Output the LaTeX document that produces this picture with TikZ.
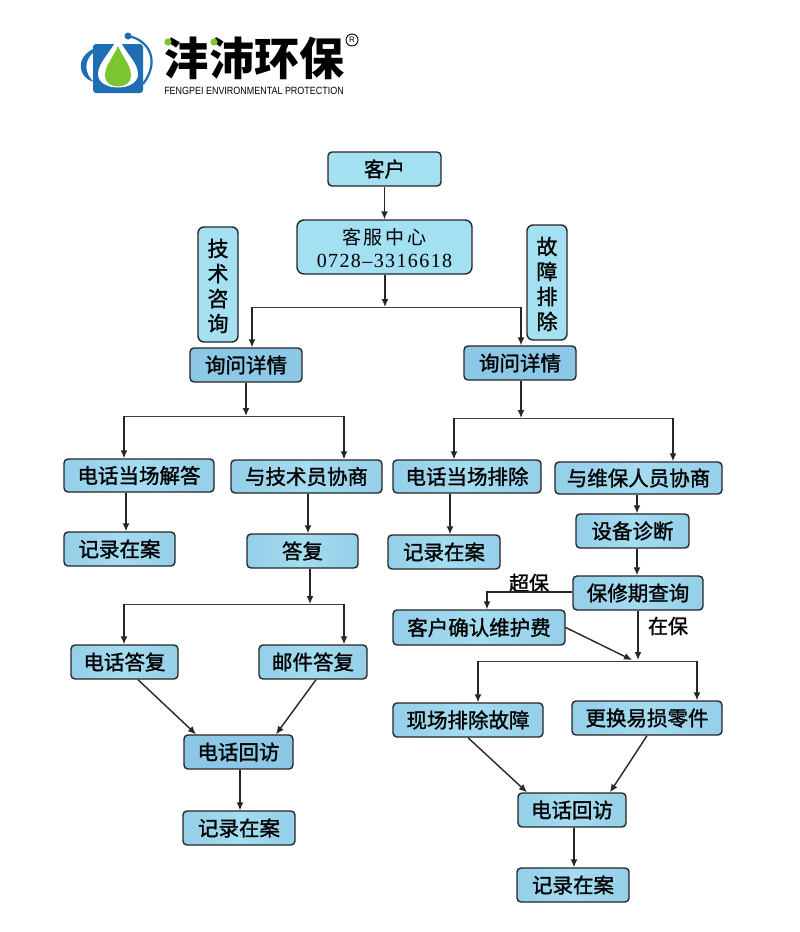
\documentclass[tikz,border=0pt]{standalone}
\usepackage{fontspec}
\setmainfont{Noto Sans CJK SC}
\newfontfamily\boxfont{Noto Sans CJK SC}[FakeBold=1.3]
\newfontfamily\numfont{Liberation Serif}
\newfontfamily\latinfont{Liberation Sans}
\usetikzlibrary{calc,arrows.meta}
\newcommand{\lowtext}[1]{\raisebox{-1.5pt}[\height][\depth]{#1}}
\definecolor{boxblue}{HTML}{A3E0F2}
\definecolor{boxpale}{HTML}{A4DCF0}
\definecolor{boxside}{HTML}{94CEE8}
\definecolor{boxdeep}{HTML}{8CC8E6}
\definecolor{logoblue}{HTML}{1F6DB5}
\definecolor{logogreen}{HTML}{7DC52E}
\tikzset{
  box/.style={draw=black!85, line width=1.4pt, rounded corners=4pt, fill=boxblue, inner sep=0pt, font=\boxfont\fontsize{20.5}{24}\selectfont},
  bandbox/.style={box, left color=boxside, right color=boxside, middle color=boxpale},
  deepbox/.style={box, fill=boxdeep},
  tag/.style={font=\boxfont\fontsize{20}{23}\selectfont, inner sep=0pt},
  flow/.style={draw=black!85, line width=1.4pt, -{Latex[length=8pt,width=7pt]}},
  bar/.style={draw=black!75, line width=1pt},
}
\begin{document}
\begin{tikzpicture}[x=1pt, y=-1pt]
  \useasboundingbox [fill=white] (0,0) rectangle (800,932);
  % logo
  \fill [logoblue, rounded corners=3pt] (93,44) rectangle (143,93);
  \fill [logoblue] (93,49) .. controls (75,58) and (78,78) .. (94,82) .. controls (84,74) and (84,60) .. (93,53) -- cycle;
  \draw [logoblue, line width=2.2pt] (128,36) .. controls (150,40) and (160,62) .. (143,84);
  \fill [logoblue] (128,36) circle [radius=3.5];
  \fill [white] (118,36) .. controls (112,52) and (98,62) .. (98,74) .. controls (98,92) and (138,92) .. (138,74) .. controls (138,62) and (124,52) .. (118,36) -- cycle;
  \fill [logogreen] (118,46) .. controls (113,58) and (105,65) .. (105,76) .. controls (105,90) and (131,90) .. (131,76) .. controls (131,65) and (123,58) .. (118,46) -- cycle;
  \node (logotext) at (254,58) [font=\fontsize{45}{47}\selectfont\bfseries, inner sep=0pt] {沣沛环保};
  \fill [logogreen] (168,42) circle [radius=3.6];
  \fill [logogreen] (214,42) circle [radius=3.6];
  \node (logomark) at (352,40) [draw, circle, line width=0.9pt, inner sep=0pt, minimum size=12pt, font=\fontsize{8}{8}\latinfont] {R};
  \node (logosub) at (254,90.5) [font=\fontsize{10.5}{11}\latinfont, inner sep=0pt, xscale=0.853] {FENGPEI ENVIRONMENTAL PROTECTION};

  % top
  \node (kehu) at (384.5,169) [box, minimum width=113pt, minimum height=34pt] {客户};
  \node (zhongxin) at (384.5,247) [box, minimum width=175pt, minimum height=54pt, rounded corners=7pt, align=center, font=\fontsize{19}{24}\selectfont] {\lowtext{客\hspace{3pt}服\hspace{3pt}中\hspace{3pt}心}\\[-1pt]\lowtext{\numfont\fontsize{20}{24}\selectfont\addfontfeature{LetterSpace=7}0728–3316618}};
  \node (zixun) at (218,284.5) [box, minimum width=40pt, minimum height=115pt, rounded corners=6pt, align=center, font=\boxfont\fontsize{21}{24}\selectfont] {\lowtext{技}\\[1pt]\lowtext{术}\\[1pt]\lowtext{咨}\\[1pt]\lowtext{询}};
  \node (guzhang) at (547,282.5) [box, minimum width=40pt, minimum height=115pt, rounded corners=6pt, align=center, font=\boxfont\fontsize{21}{24}\selectfont] {\lowtext{故}\\[1pt]\lowtext{障}\\[1pt]\lowtext{排}\\[1pt]\lowtext{除}};
  \node (xunl) at (246,365) [deepbox, minimum width=112pt, minimum height=34pt] {询问详情};
  \node (xunr) at (520,363) [deepbox, minimum width=112pt, minimum height=34pt] {询问详情};

  % left branch
  \node (jieda) at (139,475.5) [bandbox, minimum width=150pt, minimum height=33pt] {电话当场解答};
  \node (jishu) at (306.5,476.5) [bandbox, minimum width=151pt, minimum height=33pt] {与技术员协商};
  \node (jil1) at (119.5,549) [bandbox, minimum width=111pt, minimum height=34pt] {记录在案};
  \node (dafu) at (302.5,551) [bandbox, minimum width=111pt, minimum height=34pt] {答复};
  \node (dianda) at (124.5,662) [bandbox, minimum width=107pt, minimum height=34pt] {电话答复};
  \node (youjian) at (313,662) [bandbox, minimum width=108pt, minimum height=34pt] {邮件答复};
  \node (huil) at (238.5,752) [deepbox, minimum width=109pt, minimum height=34pt] {电话回访};
  \node (jil2) at (239,828) [bandbox, minimum width=112pt, minimum height=34pt] {记录在案};

  % right branch
  \node (paichu) at (467,476.5) [bandbox, minimum width=148pt, minimum height=33pt] {电话当场排除};
  \node (weibao) at (638.5,478) [bandbox, minimum width=167pt, minimum height=32pt] {与维保人员协商};
  \node (jir1) at (444,552) [bandbox, minimum width=112pt, minimum height=34pt] {记录在案};
  \node (zhenduan) at (632.5,531) [bandbox, minimum width=113pt, minimum height=34pt] {设备诊断};
  \node (chaxun) at (638,593) [bandbox, minimum width=130pt, minimum height=34pt] {保修期查询};
  \node (queren) at (479,627.5) [bandbox, minimum width=172pt, minimum height=35pt] {客户确认维护费};
  \node (xianchang) at (468,720) [bandbox, minimum width=150pt, minimum height=34pt] {现场排除故障};
  \node (genghuan) at (647,718) [bandbox, minimum width=150pt, minimum height=34pt] {更换易损零件};
  \node (huir) at (572,810) [bandbox, minimum width=108pt, minimum height=34pt] {电话回访};
  \node (jir2) at (573,885) [bandbox, minimum width=112pt, minimum height=34pt] {记录在案};
  \node (chaobao) at (529,583) [tag] {超保};
  \node (zaibao) at (668,626) [tag] {在保};

  % junctions
  \coordinate (jtop) at (385,307);
  \coordinate (jtopl) at (252,307);
  \coordinate (jtopr) at (521,307);
  \coordinate (jl) at (246,416);
  \coordinate (jll) at (124,416);
  \coordinate (jlr) at (344,416);
  \coordinate (jr) at (521,418);
  \coordinate (jrl) at (454,418);
  \coordinate (jrr) at (673,418);
  \coordinate (jd) at (310,604);
  \coordinate (jdl) at (124,604);
  \coordinate (jdr) at (344,604);
  \coordinate (jc) at (638,661);
  \coordinate (jcl) at (478,661);
  \coordinate (jcr) at (697,661);
  \coordinate (jq) at (487,592);

  % connectors
  \draw [flow] (kehu) -- (zhongxin);
  \draw [flow] (zhongxin.south -| jtop) -- (jtop);
  \draw [bar] (jtopl) -- (jtopr);
  \draw [flow] (jtopl) -- (jtopl |- xunl.north);
  \draw [flow] (jtopr) -- (jtopr |- xunr.north);

  \draw [flow] (xunl.south -| jl) -- (jl);
  \draw [bar] (jll) -- (jlr);
  \draw [flow] (jll) -- (jll |- jieda.north);
  \draw [flow] (jlr) -- (jlr |- jishu.north);
  \draw [flow] ($(jieda.south)+(-13,0)$) -- ($(jil1.north)+(6.5,0)$);
  \draw [flow] ($(jishu.south)+(1.5,0)$) -- ($(dafu.north)+(5.5,0)$);
  \draw [flow] (dafu.south -| jd) -- (jd);
  \draw [bar] (jdl) -- (jdr);
  \draw [flow] (jdl) -- (jdl |- dianda.north);
  \draw [flow] (jdr) -- (jdr |- youjian.north);
  \draw [flow] ($(dianda.south)+(13.5,0)$) -- ($(huil.north)+(-42.5,0)$);
  \draw [flow] ($(youjian.south)+(3,0)$) -- ($(huil.north)+(37.5,0)$);
  \draw [flow] ($(huil.south)+(1.5,0)$) -- ($(jil2.north)+(1,0)$);

  \draw [flow] (xunr.south -| jr) -- (jr);
  \draw [bar] (jrl) -- (jrr);
  \draw [flow] (jrl) -- (jrl |- paichu.north);
  \draw [flow] (jrr) -- (jrr |- weibao.north);
  \draw [flow] ($(paichu.south)+(-17,0)$) -- ($(jir1.north)+(6,0)$);
  \draw [flow] ($(weibao.south)+(-1.5,0)$) -- ($(zhenduan.north)+(4.5,0)$);
  \draw [flow] ($(zhenduan.south)+(4.5,0)$) -- ($(chaxun.north)+(-1,0)$);
  \draw [flow] (chaxun.west |- jq) -| (queren.north -| jq);
  \draw [flow] (chaxun.south) -- ($(jc)+(0,-1)$);
  \draw [flow] (queren.east) -- ($(jc)+(-6,-1)$);
  \draw [bar] (jcl) -- (jcr);
  \draw [flow] (jcl) -- (jcl |- xianchang.north);
  \draw [flow] (jcr) -- (jcr |- genghuan.north);
  \draw [flow] (xianchang.south) -- ($(huir.north)+(-45,0)$);
  \draw [flow] (genghuan.south) -- ($(huir.north)+(38,0)$);
  \draw [flow] ($(huir.south)+(2,0)$) -- ($(jir2.north)+(1,0)$);
\end{tikzpicture}
\end{document}
